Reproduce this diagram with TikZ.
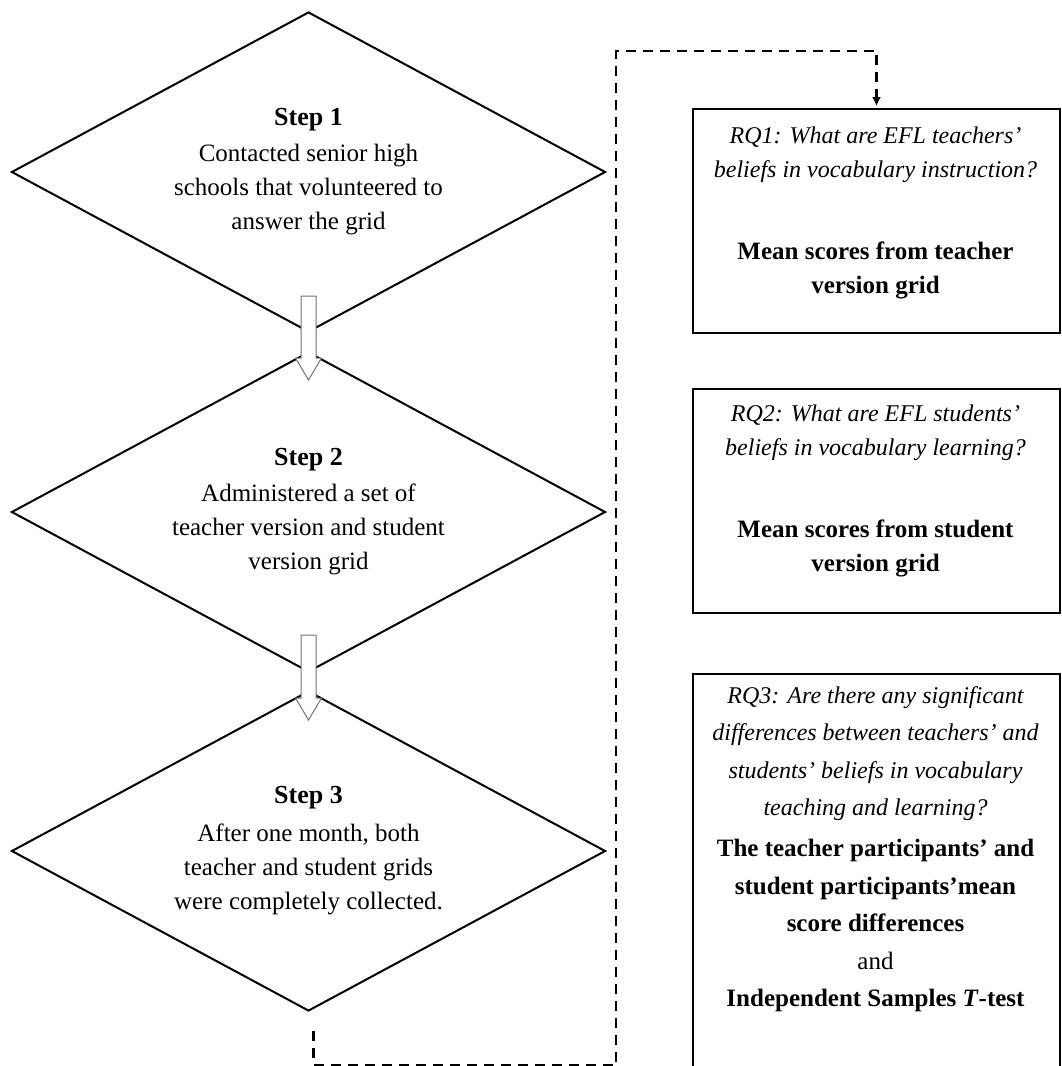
\documentclass[tikz,border=0pt]{standalone}
\usepackage{fontspec}
\setmainfont{Liberation Serif}
\usetikzlibrary{shapes.geometric,calc,arrows.meta}
\begin{document}
\begin{tikzpicture}[x=1pt,y=-1pt,
  stepshape/.style={diamond, draw, line width=2pt, aspect=1.856,
    minimum width=594pt, minimum height=320pt, inner sep=0pt, align=center,
    font=\fontsize{25}{34}\selectfont},
  steptitle/.style={font=\fontsize{26}{34}\selectfont\bfseries},
  rqbox/.style={rectangle, draw, line width=2pt, minimum width=367pt, anchor=north west, inner sep=0pt},
  rqtext/.style={align=center, inner sep=0pt, font=\fontsize{24}{34}\selectfont},
  blockarrow/.style={draw=black!55, line width=1pt, fill=white},
  dashline/.style={line width=2.5pt, dash pattern=on 10pt off 7pt}
]
\useasboundingbox (0,0) rectangle (1061,1066);
\clip (0,0) rectangle (1061,1066);

% diamonds
\node[stepshape] (d1) at (308.5,172) {{\fontsize{26}{34}\selectfont\bfseries Step 1}\\[2pt]
  Contacted senior high\\ schools that volunteered to\\ answer the grid};
\node[stepshape] (d2) at (308.5,512) {{\fontsize{26}{34}\selectfont\bfseries Step 2}\\[2pt]
  Administered a set of\\ teacher version and student\\ version grid};
\node[stepshape] (d3) at (308.5,851) {{\fontsize{26}{34}\selectfont\bfseries Step 3}\\[4pt]
  After one month, both\\ teacher and student grids\\ were completely collected.};

% block arrows
\coordinate (a1) at ($(d1.south)+(0,-37)$);
\coordinate (a2) at ($(d2.south)+(0,-38)$);
\draw[blockarrow] (a1) ++(-7.5,0) -- ++(0,62) -- ++(-5.5,0) -- ++(13,22) -- ++(13,-22) -- ++(-5.5,0) -- ++(0,-62) -- cycle;
\draw[blockarrow] (a2) ++(-7.5,0) -- ++(0,63) -- ++(-5.5,0) -- ++(13,22) -- ++(13,-22) -- ++(-5.5,0) -- ++(0,-63) -- cycle;

% RQ boxes
\node[rqbox, minimum height=224pt] (r1) at (692,108) {};
\node[rqbox, minimum height=224pt] (r2) at (692,388) {};
\node[rqbox, minimum height=420pt] (r3) at (692,673) {};

\node[rqtext] (t1) at (875.5,213) {\itshape RQ1: What are EFL teachers’\\ \itshape beliefs in vocabulary instruction?\\[48pt]
  \fontsize{25}{34}\selectfont\bfseries Mean scores from teacher\\ \fontsize{25}{34}\selectfont\bfseries version grid};
\node[rqtext] (t2) at (875.5,491) {\itshape RQ2: What are EFL students’\\ \itshape beliefs in vocabulary learning?\\[48pt]
  \fontsize{25}{34}\selectfont\bfseries Mean scores from student\\ \fontsize{25}{34}\selectfont\bfseries version grid};
\node[rqtext, font=\fontsize{24}{37.5}\selectfont] (t3) at (875.5,849) {\itshape RQ3: Are there any significant\\
  \itshape differences between teachers’ and\\ \itshape students’ beliefs in vocabulary\\ \itshape teaching and learning?\\[3.5pt]
  \fontsize{25}{37.5}\selectfont\bfseries The teacher participants’ and\\
  \fontsize{25}{37.5}\selectfont\bfseries student participants’mean\\
  \fontsize{25}{37.5}\selectfont\bfseries score differences\\
  \fontsize{25}{37.5}\selectfont and\\
  \fontsize{25}{37.5}\selectfont\bfseries Independent Samples \textit{T}-test};

% dashed connector
\coordinate (cb) at (616,1065);
\coordinate (ct) at (616,51);
\draw[dashline, -{Latex[length=9pt,width=9pt]}] ($(d3.south)+(5,19)$) |- (cb) -- (ct) -| ($(r1.north)+(0,-2)$);
\end{tikzpicture}
\end{document}
